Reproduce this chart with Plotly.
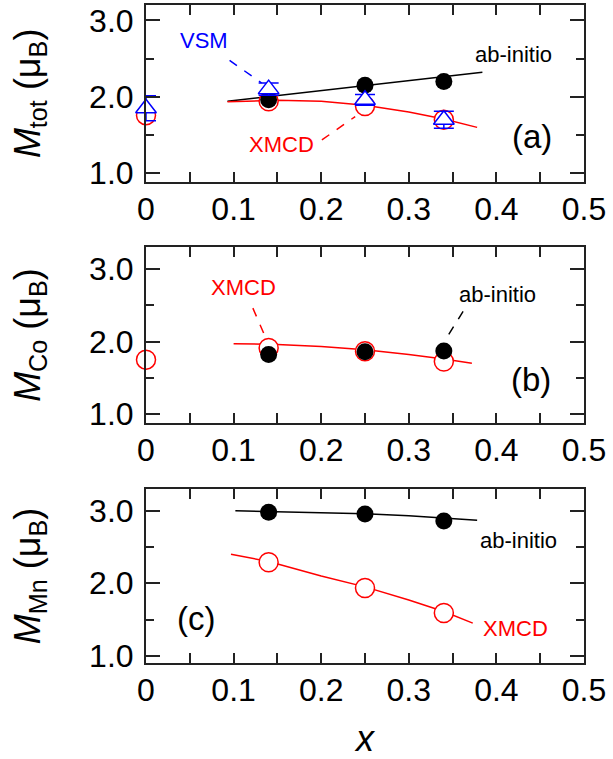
import plotly.graph_objects as go

# ---------------- data ----------------
x_exp = [0, 0.14, 0.25, 0.34]          # experimental compositions
x_calc = [0.14, 0.25, 0.34]            # calculated compositions

# (a) total moment
tot_xmcd = [1.76, 1.94, 1.88, 1.70]
tot_vsm = [1.85, 2.10, 1.96, 1.70]
tot_vsm_err = [0.165, 0.08, 0.07, 0.11]
tot_calc = [1.96, 2.15, 2.20]
fit_tot_calc_x = [0.093, 0.25, 0.384]
fit_tot_calc_y = [1.94, 2.145, 2.32]
fit_tot_xmcd_x = [0.093, 0.15, 0.2, 0.25, 0.3, 0.34, 0.378]
fit_tot_xmcd_y = [1.935, 1.955, 1.94, 1.89, 1.80, 1.71, 1.60]

# (b) Co moment
co_xmcd = [1.75, 1.91, 1.865, 1.725]
co_calc = [1.82, 1.86, 1.87]
fit_co_xmcd_x = [0.1, 0.15, 0.2, 0.25, 0.3, 0.34, 0.372]
fit_co_xmcd_y = [1.97, 1.96, 1.93, 1.885, 1.82, 1.76, 1.70]

# (c) Mn moment
mn_xmcd = [2.29, 1.935, 1.59]
mn_calc = [2.98, 2.955, 2.86]
fit_mn_calc_x = [0.102, 0.2, 0.25, 0.3, 0.378]
fit_mn_calc_y = [3.0, 2.98, 2.96, 2.93, 2.87]
fit_mn_xmcd_x = [0.097, 0.14, 0.2, 0.25, 0.3, 0.34, 0.373]
fit_mn_xmcd_y = [2.40, 2.30, 2.10, 1.95, 1.77, 1.61, 1.45]

x_tick_vals = [0, 0.1, 0.2, 0.3, 0.4, 0.5]
x_tick_text = ["0", "0.1", "0.2", "0.3", "0.4", "0.5"]
y_tick_vals = [1.0, 2.0, 3.0]
y_tick_text = ["1.0", "2.0", "3.0"]

# ---------------- styles ----------------
FONT = "Arial, Liberation Sans, sans-serif"
RED = "#ff0000"
BLUE = "#0000ff"
BLACK = "#000000"
FRAME = "#222222"

fig = go.Figure()


def line(xs, ys, color, ax):
    fig.add_trace(go.Scatter(x=xs, y=ys, mode="lines", xaxis=ax[0], yaxis=ax[1],
                             line=dict(color=color, width=1.5), hoverinfo="skip",
                             showlegend=False))


def red_circles(xs, ys, ax):
    fig.add_trace(go.Scatter(x=xs, y=ys, mode="markers", xaxis=ax[0], yaxis=ax[1],
                             marker=dict(symbol="circle", size=19, color="white",
                                         line=dict(color=RED, width=1.5)),
                             cliponaxis=False, showlegend=False, name="XMCD"))


def black_dots(xs, ys, ax):
    fig.add_trace(go.Scatter(x=xs, y=ys, mode="markers", xaxis=ax[0], yaxis=ax[1],
                             marker=dict(symbol="circle", size=17, color=BLACK,
                                         line=dict(width=0)),
                             cliponaxis=False, showlegend=False, name="ab-initio"))


A = ("x", "y")
B = ("x2", "y2")
C = ("x3", "y3")

# panel (a)
line(fit_tot_calc_x, fit_tot_calc_y, BLACK, A)
line(fit_tot_xmcd_x, fit_tot_xmcd_y, RED, A)
red_circles(x_exp, tot_xmcd, A)
black_dots(x_calc, tot_calc, A)
fig.add_trace(go.Scatter(x=x_exp, y=tot_vsm, mode="markers", xaxis="x", yaxis="y",
                         marker=dict(symbol="triangle-up", size=18, color="white",
                                     line=dict(color=BLUE, width=1.5)),
                         error_y=dict(type="data", array=tot_vsm_err, visible=True,
                                      color=BLUE, thickness=1.5, width=10),
                         cliponaxis=False, showlegend=False, name="VSM"))

# panel (b)
line(fit_co_xmcd_x, fit_co_xmcd_y, RED, B)
red_circles(x_exp, co_xmcd, B)
black_dots(x_calc, co_calc, B)

# panel (c)
line(fit_mn_calc_x, fit_mn_calc_y, BLACK, C)
line(fit_mn_xmcd_x, fit_mn_xmcd_y, RED, C)
red_circles(x_calc, mn_xmcd, C)
black_dots(x_calc, mn_calc, C)

# ---------------- axes ----------------
def xaxis(anchor, title=None):
    d = dict(anchor=anchor, domain=[0, 1], range=[0, 0.5],
             tickmode="array", tickvals=x_tick_vals, ticktext=x_tick_text,
             ticks="inside", ticklen=10, tickwidth=1.5, tickcolor=FRAME,
             minor=dict(dtick=0.05, tick0=0, ticks="inside", ticklen=10,
                        tickwidth=1.5, tickcolor=FRAME),
             showline=True, linecolor=FRAME, linewidth=2, mirror="ticks",
             showgrid=False, zeroline=False,
             tickfont=dict(family=FONT, size=32, color=BLACK),
             ticklabelstandoff=-2)
    if title:
        d["title"] = dict(text=title, font=dict(family=FONT, size=36, color=BLACK),
                          standoff=18)
    return d


def yaxis(anchor, dom, rng, title):
    return dict(anchor=anchor, domain=dom, range=rng,
                tickmode="array", tickvals=y_tick_vals, ticktext=y_tick_text,
                ticks="inside", ticklen=14, tickwidth=1.5, tickcolor=FRAME,
                minor=dict(dtick=0.5, tick0=0, ticks="inside", ticklen=8,
                           tickwidth=1.5, tickcolor=FRAME),
                showline=True, linecolor=FRAME, linewidth=2, mirror="ticks",
                showgrid=False, zeroline=False,
                tickfont=dict(family=FONT, size=32, color=BLACK),
                ticklabelstandoff=4,
                title=dict(text=title, font=dict(family=FONT, size=36, color=BLACK),
                           standoff=38))


fig.update_layout(
    width=613, height=759,
    margin=dict(l=146, r=29, t=5, b=96, autoexpand=False),
    paper_bgcolor="white", plot_bgcolor="white",
    showlegend=False,
    font=dict(family=FONT, color=BLACK),
    xaxis=xaxis("y"),
    xaxis2=xaxis("y2"),
    xaxis3=xaxis("y3", "<i>x</i>"),
    yaxis=yaxis("x", [0.7315, 1.0], [0.89, 3.2], "<i>M</i><sub>tot</sub> (μ<sub>B</sub>)"),
    yaxis2=yaxis("x2", [0.3652, 0.6318], [0.88, 3.3], "<i>M</i><sub>Co</sub> (μ<sub>B</sub>)"),
    yaxis3=yaxis("x3", [0.0, 0.2644], [0.9, 3.3], "<i>M</i><sub>Mn</sub> (μ<sub>B</sub>)"),
)

# ---------------- text labels and pointer lines ----------------
labels = [
    # (xref, yref, x, y, text, color, size)
    ("x", "y", 0.066, 2.74, "VSM", BLUE, 22),
    ("x", "y", 0.419, 2.55, "ab-initio", BLACK, 22),
    ("x", "y", 0.155, 1.37, "XMCD", RED, 22),
    ("x", "y", 0.441, 1.48, "(a)", BLACK, 33),
    ("x2", "y2", 0.111, 2.74, "XMCD", RED, 22),
    ("x2", "y2", 0.401, 2.645, "ab-initio", BLACK, 22),
    ("x2", "y2", 0.440, 1.47, "(b)", BLACK, 33),
    ("x3", "y3", 0.425, 2.59, "ab-initio", BLACK, 22),
    ("x3", "y3", 0.422, 1.38, "XMCD", RED, 22),
    ("x3", "y3", 0.057, 1.52, "(c)", BLACK, 33),
]
for xr, yr, x, y, t, c, s in labels:
    fig.add_annotation(xref=xr, yref=yr, x=x, y=y, text=t, showarrow=False,
                       font=dict(family=FONT, size=s, color=c),
                       xanchor="center", yanchor="middle")

pointers = [
    # (xref, yref, x0, y0, x1, y1, color)
    ("x", "y", 0.0954, 2.476, 0.132, 2.18, BLUE),
    ("x", "y", 0.2008, 1.436, 0.2388, 1.741, RED),
    ("x2", "y2", 0.122, 2.46, 0.136, 2.07, RED),
    ("x2", "y2", 0.362, 2.415, 0.343, 2.048, BLACK),
]
for xr, yr, x0, y0, x1, y1, c in pointers:
    fig.add_shape(type="line", xref=xr, yref=yr, x0=x0, y0=y0, x1=x1, y1=y1,
                  line=dict(color=c, width=1.5, dash="dash"))

fig.write_html("out.html", config={"displayModeBar": False},
               post_script="document.body.style.margin='0';")
